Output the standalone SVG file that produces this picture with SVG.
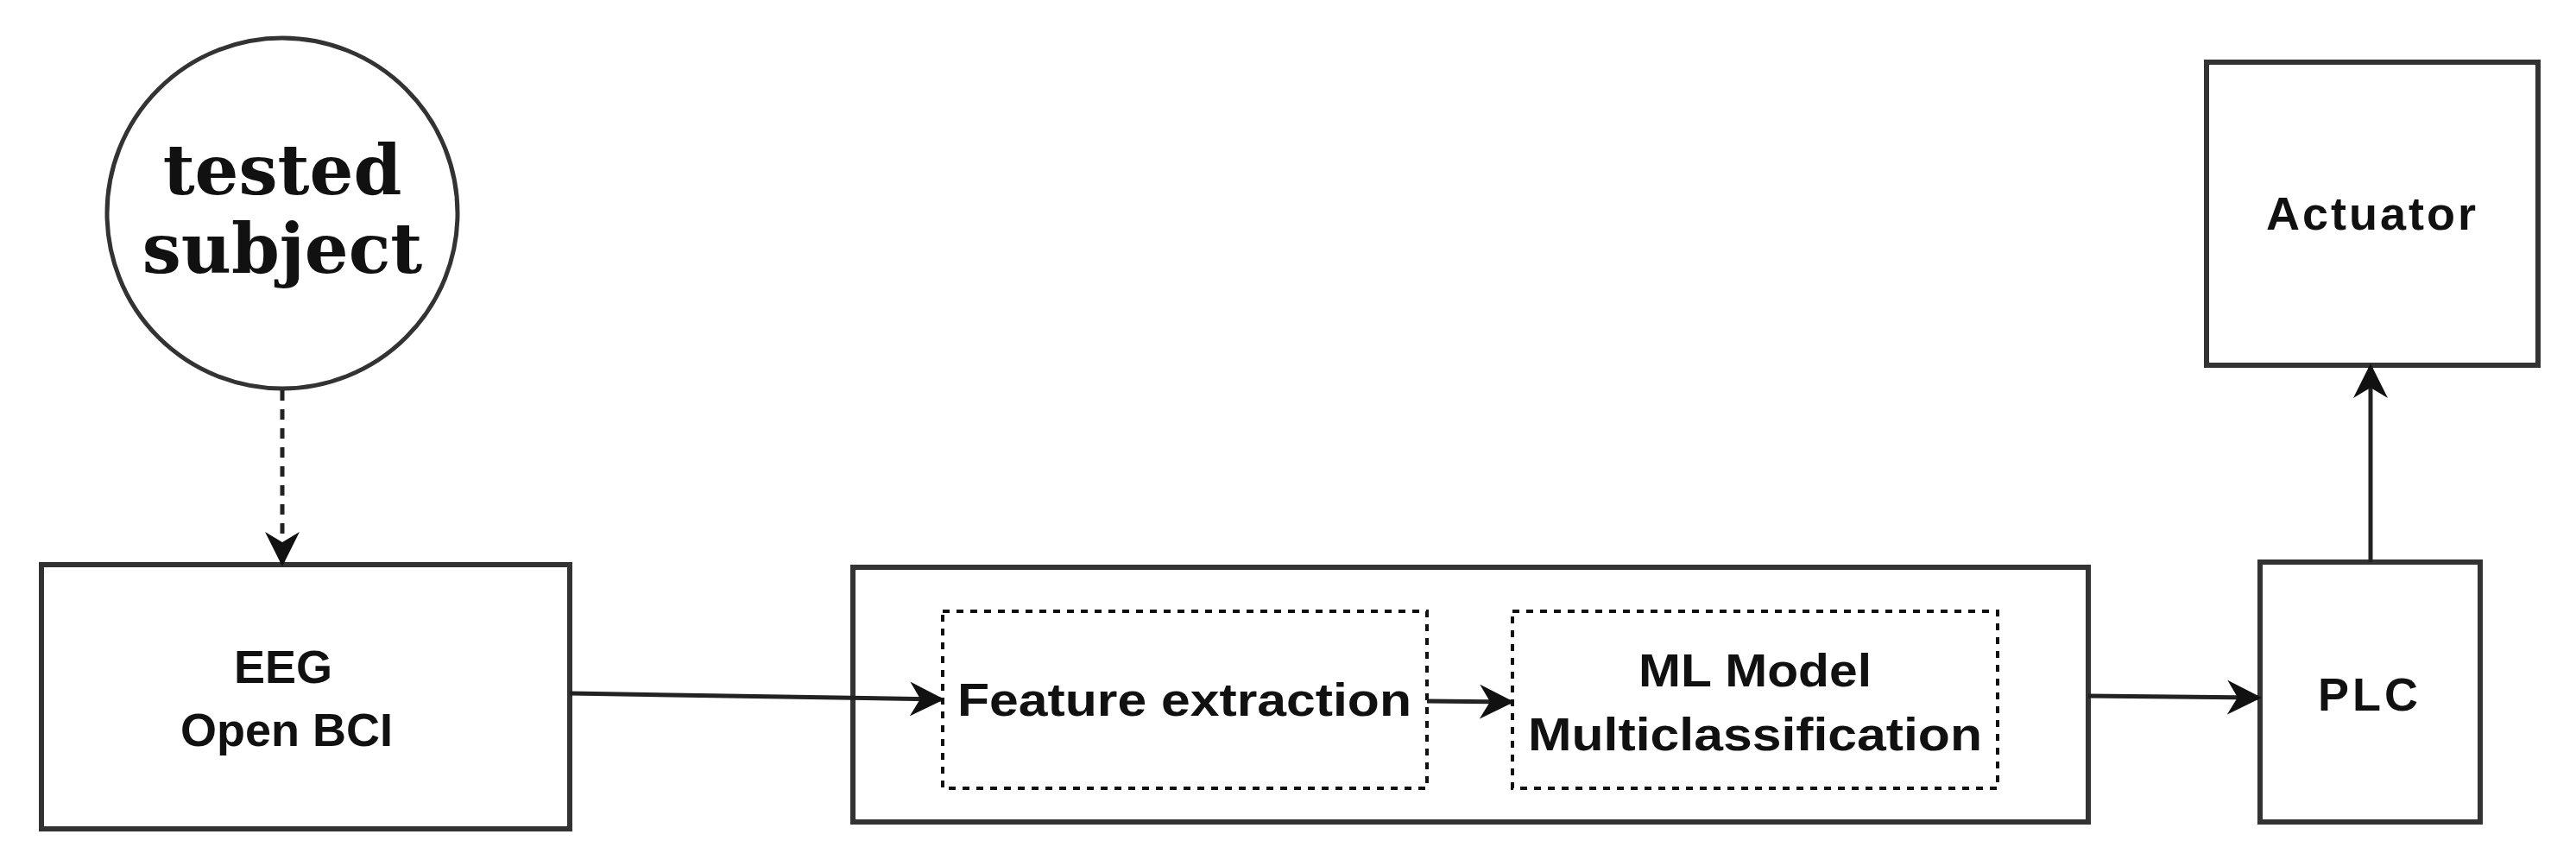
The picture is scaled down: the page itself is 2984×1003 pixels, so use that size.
<svg xmlns="http://www.w3.org/2000/svg" width="2984" height="1003" viewBox="0 0 2984 1003">
<style>
.box{fill:#fff;stroke:#333;stroke-width:6}
.dbox{fill:none;stroke:#111;stroke-width:4;stroke-dasharray:8 8}
.lbl{font-family:"Liberation Sans",Arial,sans-serif;font-weight:bold;font-size:54px;fill:#111;text-anchor:middle}
.ser{font-family:"DejaVu Serif",serif;font-weight:bold;font-size:80px;fill:#111;text-anchor:middle}
.conn{stroke:#222;stroke-width:5;fill:none}
</style>
<defs>
<marker id="ahb" viewBox="0 0 10 10" refX="9" refY="5" markerWidth="40" markerHeight="40" markerUnits="userSpaceOnUse" orient="auto">
<path d="M0,0 L10,5 L0,10 L3,5 Z" fill="#111"/>
</marker>
</defs>
<rect width="2984" height="1003" fill="#fff"/>
<g id="subject">
<circle cx="327" cy="247" r="203" fill="#fff" stroke="#333" stroke-width="5"/>
<text class="ser" x="327" y="225">tested</text>
<text class="ser" x="327" y="316">subject</text>
</g>
<g id="eeg">
<rect class="box" x="48" y="654" width="612" height="306"/>
<text class="lbl" x="328" y="791">EEG</text>
<text class="lbl" x="332" y="864">Open BCI</text>
</g>
<g id="processing">
<rect class="box" x="988" y="657" width="1431" height="295"/>
</g>
<g id="feature">
<rect class="dbox" x="1092" y="708" width="561" height="205"/>
<text class="lbl" x="1372" y="829" font-size="60" textLength="526" lengthAdjust="spacingAndGlyphs">Feature extraction</text>
</g>
<g id="ml">
<rect class="dbox" x="1752" y="708" width="562" height="205"/>
<text class="lbl" x="2033" y="795" font-size="60" textLength="270" lengthAdjust="spacingAndGlyphs">ML Model</text>
<text class="lbl" x="2033" y="869" font-size="60" textLength="526" lengthAdjust="spacingAndGlyphs">Multiclassification</text>
</g>
<g id="plc">
<rect class="box" x="2618" y="651" width="255" height="301"/>
<text class="lbl" x="2745" y="823" letter-spacing="4">PLC</text>
</g>
<g id="actuator">
<rect class="box" x="2556" y="72" width="384" height="351"/>
<text class="lbl" x="2748" y="266" letter-spacing="3">Actuator</text>
</g>
<g id="connectors">
<line class="conn" x1="327" y1="452" x2="327" y2="652" stroke-dasharray="12 10" marker-end="url(#ahb)"/>
<line class="conn" x1="660" y1="803" x2="1090" y2="810" marker-end="url(#ahb)"/>
<line class="conn" x1="1653" y1="812" x2="1750" y2="813" marker-end="url(#ahb)"/>
<line class="conn" x1="2419" y1="806" x2="2616" y2="808" marker-end="url(#ahb)"/>
<line class="conn" x1="2746" y1="651" x2="2746" y2="425" marker-end="url(#ahb)"/>
</g>
</svg>
